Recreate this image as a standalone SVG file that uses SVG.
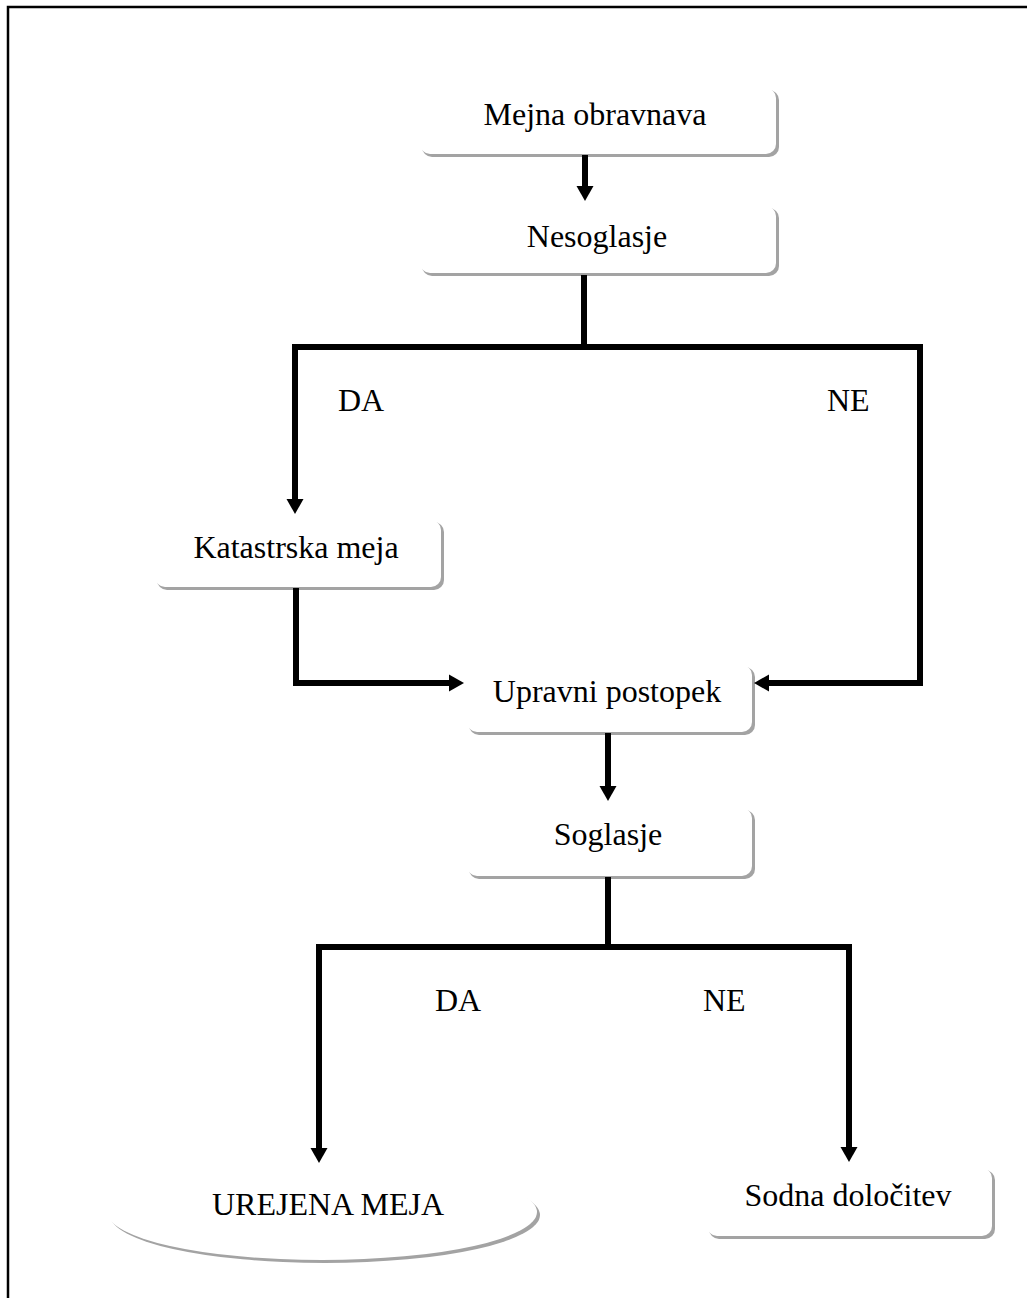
<svg xmlns="http://www.w3.org/2000/svg" width="1027" height="1298" viewBox="0 0 1027 1298">
<defs>
<style>
.box{fill:#ffffff;}
.shadow{fill:#a3a3a3;}
.lbl{font-family:"Liberation Serif","Times New Roman",serif;font-size:32px;fill:#000;}
.mid{text-anchor:middle;}
.conn{fill:none;stroke:#000;stroke-width:6;stroke-linejoin:miter;stroke-linecap:butt;}
</style>
<marker id="ah" markerUnits="userSpaceOnUse" markerWidth="20" markerHeight="20" viewBox="0 -10 16 20" refX="0" refY="0" orient="auto">
<path d="M0,-8.5 L15,0 L0,8.5 z" fill="#000"/>
</marker>
</defs>
<rect x="0" y="0" width="1027" height="1298" fill="#fff"/>
<path d="M8,1298 V7 H1027" fill="none" stroke="#000" stroke-width="2.5"/>

<g id="n1">
<rect class="shadow" x="422" y="90" width="357" height="67" rx="10"/>
<rect class="box" x="420" y="88" width="356" height="66" rx="10"/>
<text class="lbl mid" x="595" y="125">Mejna obravnava</text>
</g>
<g id="n2">
<rect class="shadow" x="422" y="208" width="357" height="68" rx="10"/>
<rect class="box" x="420" y="206" width="356" height="67" rx="10"/>
<text class="lbl mid" x="597" y="247">Nesoglasje</text>
</g>
<g id="n3">
<rect class="shadow" x="157" y="522" width="287" height="68" rx="10"/>
<rect class="box" x="155" y="520" width="286" height="67" rx="10"/>
<text class="lbl mid" x="296" y="558">Katastrska meja</text>
</g>
<g id="n4">
<rect class="shadow" x="469" y="667" width="286" height="68" rx="10"/>
<rect class="box" x="467" y="665" width="285" height="67" rx="10"/>
<text class="lbl mid" x="607" y="702">Upravni postopek</text>
</g>
<g id="n5">
<rect class="shadow" x="469" y="810" width="286" height="69" rx="10"/>
<rect class="box" x="467" y="808" width="285" height="68" rx="10"/>
<text class="lbl mid" x="608" y="845">Soglasje</text>
</g>
<g id="n6">
<ellipse class="shadow" cx="325" cy="1215" rx="215" ry="48"/>
<ellipse class="box" cx="322" cy="1212" rx="215" ry="48"/>
<text class="lbl mid" x="328" y="1215">UREJENA MEJA</text>
</g>
<g id="n7">
<rect class="shadow" x="709" y="1170" width="286" height="69" rx="10"/>
<rect class="box" x="707" y="1168" width="285" height="68" rx="10"/>
<text class="lbl mid" x="848" y="1206">Sodna določitev</text>
</g>

<g id="connectors">
<path class="conn" d="M585,155 V186" marker-end="url(#ah)"/>
<path class="conn" d="M584,275 V347"/>
<path class="conn" d="M295,347 H920 V683 H769" marker-end="url(#ah)"/>
<path class="conn" d="M295,344 V499" marker-end="url(#ah)"/>
<path class="conn" d="M296,588 V683 H449" marker-end="url(#ah)"/>
<path class="conn" d="M608,733 V786" marker-end="url(#ah)"/>
<path class="conn" d="M608,877 V947"/>
<path class="conn" d="M319,947 H849 V1147" marker-end="url(#ah)"/>
<path class="conn" d="M319,944 V1148" marker-end="url(#ah)"/>
<text class="lbl" x="338" y="411">DA</text>
<text class="lbl" x="827" y="411">NE</text>
<text class="lbl" x="435" y="1011">DA</text>
<text class="lbl" x="703" y="1011">NE</text>
</g>
</svg>
